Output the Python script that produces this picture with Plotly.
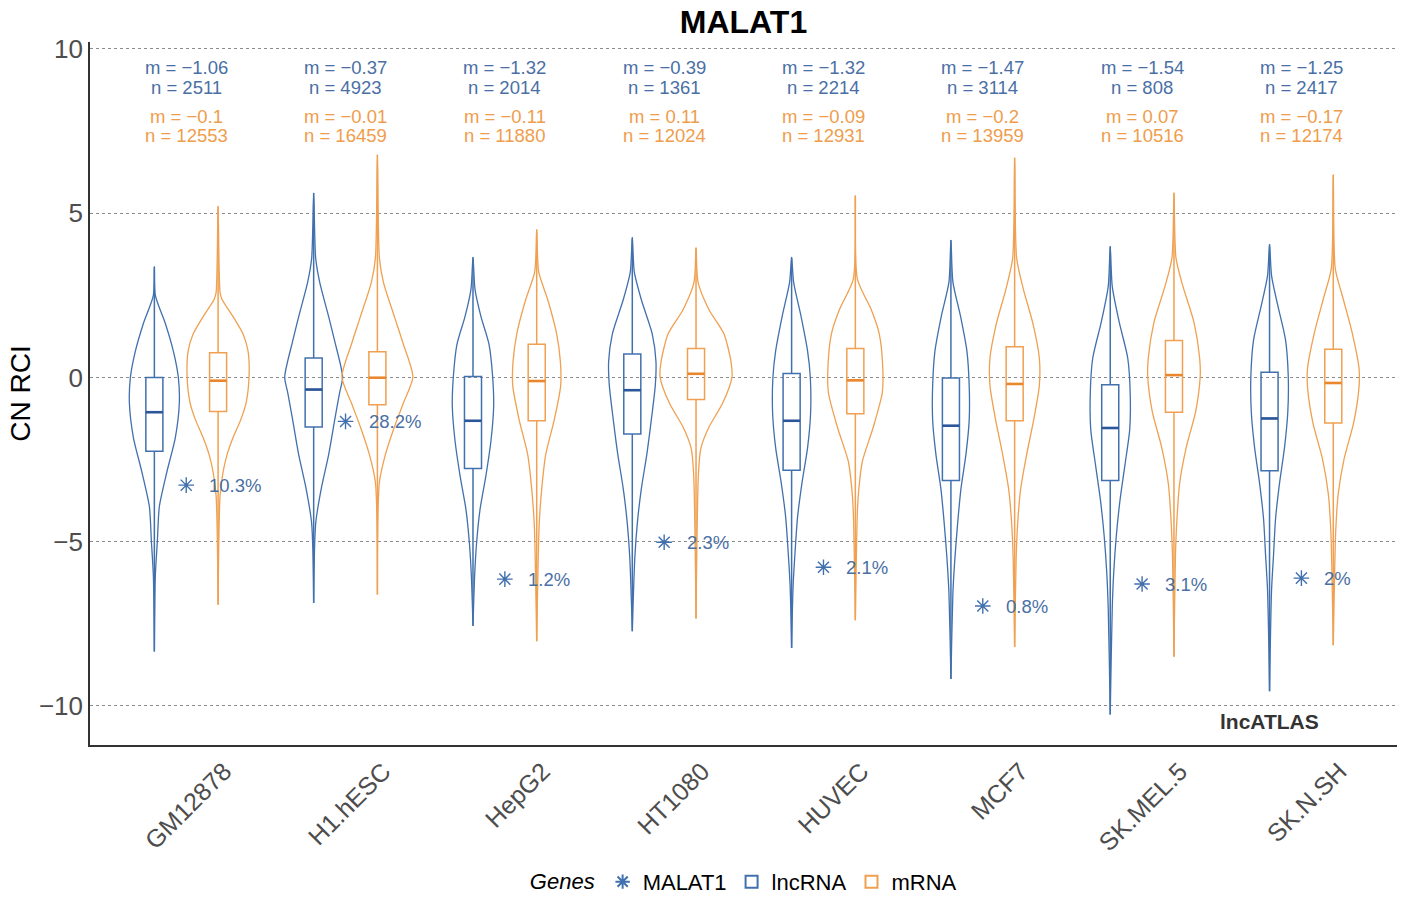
import plotly.graph_objects as go

# ---------------- data ----------------
cell_lines = ["GM12878", "H1.hESC", "HepG2", "HT1080", "HUVEC", "MCF7", "SK.MEL.5", "SK.N.SH"]

lnc_m = [-1.06, -0.37, -1.32, -0.39, -1.32, -1.47, -1.54, -1.25]
lnc_n = [2511, 4923, 2014, 1361, 2214, 3114, 808, 2417]
mrna_m = [-0.1, -0.01, -0.11, 0.11, -0.09, -0.2, 0.07, -0.17]
mrna_n = [12553, 16459, 11880, 12024, 12931, 13959, 10516, 12174]

lnc_q1 = [-2.25, -1.51, -2.77, -1.72, -2.83, -3.14, -3.14, -2.84]
lnc_q3 = [0.0, 0.59, 0.03, 0.71, 0.12, -0.02, -0.22, 0.16]
mrna_q1 = [-1.04, -0.83, -1.32, -0.67, -1.11, -1.32, -1.06, -1.39]
mrna_q3 = [0.75, 0.78, 1.01, 0.88, 0.88, 0.93, 1.12, 0.86]

malat1_rci = [-3.28, -1.34, -6.14, -5.02, -5.78, -6.96, -6.29, -6.11]
malat1_pct = ["10.3%", "28.2%", "1.2%", "2.3%", "2.1%", "0.8%", "3.1%", "2%"]

# violin density profiles: RCI levels (top -> bottom) and relative density
lnc_dens_y = [
    [3.37, 2.5, 1.64, 0.80, 0.0, -0.78, -1.83, -2.88, -3.93, -4.98, -6.03, -8.34],
    [5.61, 3.63, 2.90, 1.85, 1.11, 0.01, -0.46, -1.30, -2.35, -3.40, -4.45, -6.87],
    [3.66, 2.69, 1.85, 1.01, 0.01, -0.88, -1.93, -2.98, -4.03, -5.08, -6.13, -7.57],
    [4.26, 3.21, 2.37, 1.32, 0.48, -0.25, -1.30, -2.35, -3.40, -4.45, -5.5, -7.73],
    [3.66, 2.90, 1.85, 0.80, 0.01, -1.09, -2.14, -3.19, -4.24, -5.29, -6.34, -8.24],
    [4.18, 2.90, 1.85, 0.80, -0.25, -1.30, -2.35, -3.40, -4.45, -5.5, -6.55, -9.18],
    [3.99, 2.77, 1.68, 0.59, -0.50, -1.59, -2.67, -3.76, -4.85, -5.94, -7.03, -10.26],
    [4.05, 3.10, 2.22, 1.14, 0.05, -1.04, -2.13, -3.22, -4.31, -5.40, -6.48, -9.55],
]
lnc_dens = [
    [0, 1, 11, 19, 24, 25, 21, 12.5, 5, 3, 1, 0],
    [0, 2, 6, 15, 21, 29, 26, 21, 15, 7.5, 2, 0],
    [0, 2, 8, 16, 19.7, 20.7, 18, 13, 7, 3.5, 1.5, 0],
    [0, 2, 9, 20, 23.7, 23, 19, 14.5, 9, 5, 2.5, 0],
    [0, 2, 9.5, 16, 18.7, 19, 16, 10.5, 6, 3.5, 1.5, 0],
    [0, 2, 9.7, 16, 18.3, 18.3, 15, 10, 6.7, 4, 2, 0],
    [0, 2, 9, 17.5, 20, 19.5, 14.7, 9.7, 6, 3.5, 2, 0],
    [0, 2, 8, 16, 18.7, 18.3, 15, 10, 6, 4, 2, 0],
]
mrna_dens_y = [
    [5.21, 2.58, 2.37, 1.85, 1.32, 0.80, 0.01, -0.78, -1.30, -1.83, -2.35, -2.88, -3.6, -6.92],
    [6.78, 3.63, 2.90, 1.85, 1.01, 0.01, -0.78, -1.51, -2.35, -3.19, -6.61],
    [4.50, 3.21, 2.37, 1.32, 0.48, -0.25, -1.30, -2.35, -3.40, -4.45, -5.5, -8.03],
    [3.95, 2.90, 2.06, 1.32, 0.48, 0.01, -0.78, -1.51, -2.14, -2.88, -7.34],
    [5.53, 3.00, 2.06, 1.32, 0.27, -0.46, -1.51, -2.56, -3.40, -4.14, -7.39],
    [6.69, 3.63, 2.69, 1.64, 0.59, -0.25, -1.30, -2.35, -3.40, -4.45, -5.5, -8.21],
    [5.62, 3.64, 2.77, 1.68, 0.59, 0.05, -1.04, -2.13, -3.22, -4.31, -5.40, -8.50],
    [6.17, 3.31, 2.44, 1.35, 0.27, -0.28, -1.37, -2.46, -3.54, -4.63, -5.72, -8.15],
]
mrna_dens = [
    [0, 2, 4, 15, 25, 30, 31, 28, 22.5, 15, 9, 5, 2, 0],
    [0, 2, 6, 17, 26, 35.5, 26, 17, 8, 2, 0],
    [0, 2, 11, 20, 23.7, 24, 17.5, 9, 5, 2.5, 1.5, 0],
    [0, 2, 13, 28, 35, 36, 26.7, 13, 5, 2.5, 0],
    [0, 2, 16, 24, 27.5, 27, 18, 7, 3.5, 2, 0],
    [0, 2, 8.7, 18.3, 24.7, 24.7, 19, 12, 6, 3, 1.5, 0],
    [0, 2, 9, 20, 25.7, 26.3, 21.7, 12.3, 5.7, 3, 1.5, 0],
    [0, 2, 9.5, 19, 25.8, 25.8, 20.5, 11, 5, 2.5, 1.5, 0],
]

# ---------------- styling ----------------
BLUE = "#4170ae"
BLUE_DARK = "#2b569a"
BLUE_TXT = "#4a6fa5"
ORANGE = "#efa050"
ORANGE_DARK = "#ea862c"
ORANGE_TXT = "#ef9d4c"
FONT = "Liberation Sans, Arial, sans-serif"
DENS_SCALE = 1 / 159.5      # density units -> x units
DODGE = 0.2
BOX_W = 0.107


def fmt(v):
    s = f"{v:g}"
    return s.replace("-", "\u2212")


fig = go.Figure()
xpos = list(range(1, len(cell_lines) + 1))


def add_violin(xc, ys, ws, color):
    xr = [xc + w * DENS_SCALE for w in ws]
    xl = [xc - w * DENS_SCALE for w in ws]
    fig.add_trace(go.Scatter(
        x=xr + xl[::-1], y=ys + ys[::-1], mode="lines",
        line=dict(color=color, width=1.3, shape="spline", smoothing=0.7),
        showlegend=False, hoverinfo="skip"))


for i, xc in enumerate(xpos):
    add_violin(xc - DODGE, lnc_dens_y[i], lnc_dens[i], BLUE)
    add_violin(xc + DODGE, mrna_dens_y[i], mrna_dens[i], ORANGE)

fig.add_trace(go.Scatter(
    x=xpos, y=malat1_rci, mode="markers", name="MALAT1",
    marker=dict(symbol="asterisk-open", size=13, color=BLUE,
                line=dict(color=BLUE, width=1.4)),
    legendrank=1))

fig.add_trace(go.Box(
    x=[x - DODGE for x in xpos], q1=lnc_q1, median=lnc_m, q3=lnc_q3,
    lowerfence=[v[-1] for v in lnc_dens_y], upperfence=[v[0] for v in lnc_dens_y],
    width=BOX_W, whiskerwidth=0, boxpoints=False, name="lncRNA",
    line=dict(color=BLUE, width=1.5), fillcolor="rgba(255,255,255,0)",
    legendrank=2))
fig.add_trace(go.Box(
    x=[x + DODGE for x in xpos], q1=mrna_q1, median=mrna_m, q3=mrna_q3,
    lowerfence=[v[-1] for v in mrna_dens_y], upperfence=[v[0] for v in mrna_dens_y],
    width=BOX_W, whiskerwidth=0, boxpoints=False, name="mRNA",
    line=dict(color=ORANGE, width=1.5), fillcolor="rgba(255,255,255,0)",
    legendrank=3))


def median_segments(offset, meds):
    xs, ys = [], []
    for xc, m in zip(xpos, meds):
        xs += [xc + offset - BOX_W / 2, xc + offset + BOX_W / 2, None]
        ys += [m, m, None]
    return xs, ys


for off, meds, col in [(-DODGE, lnc_m, BLUE_DARK), (DODGE, mrna_m, ORANGE_DARK)]:
    mx, my = median_segments(off, meds)
    fig.add_trace(go.Scatter(x=mx, y=my, mode="lines", line=dict(color=col, width=2.6),
                             showlegend=False, hoverinfo="skip"))

TF = 18.5
ann = []
for i, xc in enumerate(xpos):
    ann.append(dict(x=xc, y=9.42, text=f"m = {fmt(lnc_m[i])}", showarrow=False,
                    font=dict(size=TF, color=BLUE_TXT, family=FONT)))
    ann.append(dict(x=xc, y=8.84, text=f"n = {lnc_n[i]}", showarrow=False,
                    font=dict(size=TF, color=BLUE_TXT, family=FONT)))
    ann.append(dict(x=xc, y=7.93, text=f"m = {fmt(mrna_m[i])}", showarrow=False,
                    font=dict(size=TF, color=ORANGE_TXT, family=FONT)))
    ann.append(dict(x=xc, y=7.36, text=f"n = {mrna_n[i]}", showarrow=False,
                    font=dict(size=TF, color=ORANGE_TXT, family=FONT)))
    ann.append(dict(x=xc, y=malat1_rci[i], text=malat1_pct[i], showarrow=False,
                    xanchor="left", xshift=21,
                    font=dict(size=TF, color=BLUE_TXT, family=FONT)))
ann.append(dict(x=8.12, y=-10.46, text="<b>lncATLAS</b>", showarrow=False,
                xanchor="right", font=dict(size=21, color="#333333", family=FONT)))

fig.update_layout(
    width=1405, height=910,
    margin=dict(l=90, r=8, t=42, b=164),
    paper_bgcolor="white", plot_bgcolor="white",
    font=dict(family=FONT, color="#4d4d4d"),
    title=dict(text="<b>MALAT1</b>", x=0.5, xref="paper", xanchor="center",
               y=1 - 22 / 910, yref="container", yanchor="middle",
               font=dict(size=32, color="black", family=FONT)),
    annotations=ann,
    showlegend=True,
    legend=dict(orientation="h", x=0.501, xanchor="center", y=-0.193, yanchor="middle",
                title=dict(text="<i>Genes</i>", font=dict(size=22, color="black")),
                font=dict(size=22, color="black", family=FONT),
                itemsizing="constant", tracegroupgap=0, itemwidth=30),
)
fig.update_xaxes(range=[0.396, 8.6], tickvals=xpos, ticktext=cell_lines,
                 tickangle=-45, showgrid=False, zeroline=False, ticks="",
                 showline=True, linecolor="#333333", linewidth=1.6,
                 tickfont=dict(size=25, color="#4d4d4d", family=FONT),
                 ticklabelshift=38)
fig.update_yaxes(range=[-11.19, 10.21], tickvals=[-10, -5, 0, 5, 10],
                 ticktext=["\u221210", "\u22125", "0", "5", "10"],
                 showgrid=True, gridcolor="#8c8c8c", griddash="dot", gridwidth=1,
                 zeroline=False, ticks="", showline=True, linecolor="#333333",
                 linewidth=1.6, tickfont=dict(size=26, color="#4d4d4d", family=FONT),
                 title=dict(text="CN RCI", font=dict(size=28, color="black", family=FONT),
                            standoff=0))

# the page body margin is removed so the 1405x910 figure fills the window exactly
fig.write_html("out.html", config={"displayModeBar": False},
               post_script="document.body.style.margin='0';")
